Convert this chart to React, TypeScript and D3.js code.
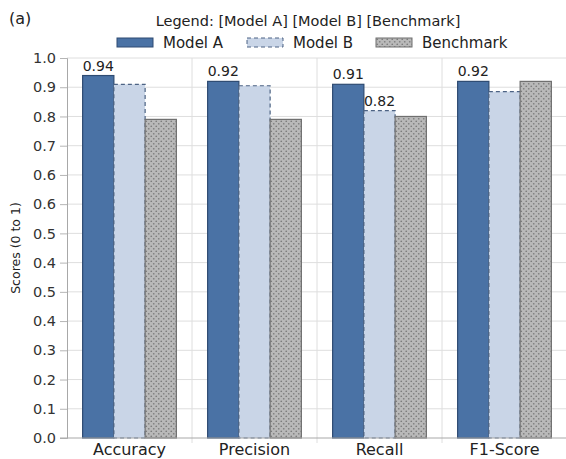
import * as d3 from "d3";
import { useEffect, useRef } from "react";

const WIDTH = 566;
const HEIGHT = 459;
const MARGIN = { top: 58, right: -1, bottom: 21, left: 67 };
const FONT = "'DejaVu Sans', 'Liberation Sans', Arial, sans-serif";

const CATEGORIES = ["Accuracy", "Precision", "Recall", "F1-Score"];
const SERIES = ["Model A", "Model B", "Benchmark"];
const MODEL_A = [0.94, 0.92, 0.91, 0.92];
const MODEL_B = [0.91, 0.905, 0.82, 0.885];
const BENCHMARK = [0.79, 0.79, 0.8, 0.92];
// tick labels exactly as printed on the source axis (top to bottom)
const Y_TICK_LABELS = [
  "1.0", "0.9", "0.8", "0.7", "0.6", "0.6", "0.5",
  "0.4", "0.5", "0.4", "0.3", "0.2", "0.1", "0.0",
];
// which bars carry a value label: [series index, category index]
const LABELLED: [number, number][] = [
  [0, 0],
  [0, 1],
  [0, 2],
  [0, 3],
  [1, 2],
];

const STYLE = [
  { fill: "#4a72a5", stroke: "#2e4b72", dash: null },
  { fill: "#c9d5e7", stroke: "#4d6384", dash: "4,3" },
  { fill: "url(#dots)", stroke: "#6f6f6f", dash: null },
];

export default function App() {
  const svgRef = useRef<SVGSVGElement>(null);

  useEffect(() => {
    if (!svgRef.current) return;
    const svg = d3.select(svgRef.current);
    svg.selectAll("*").remove();

    const values = [MODEL_A, MODEL_B, BENCHMARK];
    const bottom = HEIGHT - MARGIN.bottom;
    const right = WIDTH - MARGIN.right;

    const x = d3.scaleBand().domain(CATEGORIES).range([MARGIN.left, right]);
    const xs = d3
      .scaleBand()
      .domain(SERIES)
      .range([0, x.bandwidth()])
      .paddingOuter(0.5);

    const tickValues = Y_TICK_LABELS.map((_, i) => 1 - i * 0.1);
    const y = d3
      .scaleLinear()
      .domain([tickValues[tickValues.length - 1], 1])
      .range([bottom, MARGIN.top]);

    // hatch pattern for benchmark
    const defs = svg.append("defs");
    const pat = defs
      .append("pattern")
      .attr("id", "dots")
      .attr("patternUnits", "userSpaceOnUse")
      .attr("width", 5)
      .attr("height", 5);
    pat.append("rect").attr("width", 5).attr("height", 5).attr("fill", "#b9b9b9");
    pat.append("circle").attr("cx", 1.25).attr("cy", 1.25).attr("r", 0.85).attr("fill", "#7c7c7c");
    pat.append("circle").attr("cx", 3.75).attr("cy", 3.75).attr("r", 0.85).attr("fill", "#7c7c7c");

    // grid
    const grid = svg.append("g").attr("stroke", "#dedede").attr("stroke-width", 1);
    grid
      .selectAll("line.h")
      .data(tickValues.slice(0, -1))
      .join("line")
      .attr("x1", MARGIN.left)
      .attr("x2", right)
      .attr("y1", (d) => y(d))
      .attr("y2", (d) => y(d));
    grid
      .selectAll("line.v")
      .data(CATEGORIES.slice(1))
      .join("line")
      .attr("x1", (d) => x(d)!)
      .attr("x2", (d) => x(d)!)
      .attr("y1", MARGIN.top)
      .attr("y2", bottom + 5);

    // y axis
    const yAxis = svg
      .append("g")
      .attr("transform", `translate(${MARGIN.left},0)`)
      .call(
        d3
          .axisLeft(y)
          .tickValues(tickValues)
          .tickSize(7)
          .tickPadding(4)
          .tickFormat((_, i) => Y_TICK_LABELS[i])
      );
    yAxis.select(".domain").attr("stroke", "#a8a8a8");
    yAxis.selectAll(".tick line").attr("stroke", "#b5b5b5");
    yAxis
      .selectAll(".tick text")
      .attr("fill", "#333")
      .style("font", `14.5px ${FONT}`);

    // bars
    SERIES.forEach((s, si) => {
      svg
        .append("g")
        .selectAll("rect")
        .data(CATEGORIES)
        .join("rect")
        .attr("x", (c) => x(c)! + xs(s)!)
        .attr("y", (_, ci) => y(values[si][ci]))
        .attr("width", xs.bandwidth())
        .attr("height", (_, ci) => bottom - y(values[si][ci]))
        .attr("fill", STYLE[si].fill)
        .attr("stroke", STYLE[si].stroke)
        .attr("stroke-width", 1.2)
        .attr("stroke-dasharray", STYLE[si].dash);
    });

    // bottom axis line
    svg
      .append("line")
      .attr("x1", MARGIN.left - 7)
      .attr("x2", right)
      .attr("y1", bottom)
      .attr("y2", bottom)
      .attr("stroke", "#a8a8a8");

    // value labels
    svg
      .append("g")
      .selectAll("text")
      .data(LABELLED)
      .join("text")
      .attr("x", ([si, ci]) => x(CATEGORIES[ci])! + xs(SERIES[si])! + xs.bandwidth() / 2)
      .attr("y", ([si, ci]) => y(values[si][ci]) - 5)
      .attr("text-anchor", "middle")
      .attr("fill", "#222")
      .style("font", `14px ${FONT}`)
      .text(([si, ci]) => values[si][ci].toFixed(2));

    // category labels
    svg
      .append("g")
      .selectAll("text")
      .data(CATEGORIES)
      .join("text")
      .attr("x", (c) => x(c)! + x.bandwidth() / 2)
      .attr("y", bottom + 17)
      .attr("text-anchor", "middle")
      .attr("fill", "#222")
      .style("font", `16px ${FONT}`)
      .text((c) => c);

    // y label
    svg
      .append("text")
      .attr("transform", `translate(20,${(MARGIN.top + bottom) / 2}) rotate(-90)`)
      .attr("text-anchor", "middle")
      .attr("fill", "#222")
      .style("font", `12.5px ${FONT}`)
      .text("Scores (0 to 1)");

    // panel tag + legend
    svg
      .append("text")
      .attr("x", 9)
      .attr("y", 24)
      .attr("fill", "#222")
      .style("font", `16px ${FONT}`)
      .text("(a)");

    svg
      .append("text")
      .attr("x", 308)
      .attr("y", 26)
      .attr("text-anchor", "middle")
      .attr("fill", "#222")
      .style("font", `14.5px ${FONT}`)
      .text("Legend: [Model A] [Model B] [Benchmark]");

    const legendX = [117, 247, 376];
    const legend = svg.append("g");
    SERIES.forEach((s, si) => {
      const g = legend.append("g").attr("transform", `translate(${legendX[si]},38)`);
      g.append("rect")
        .attr("width", 36)
        .attr("height", 9)
        .attr("fill", STYLE[si].fill)
        .attr("stroke", STYLE[si].stroke)
        .attr("stroke-dasharray", STYLE[si].dash);
      g.append("text")
        .attr("x", 46)
        .attr("y", 10)
        .attr("fill", "#222")
        .style("font", `15px ${FONT}`)
        .text(s);
    });
  }, []);

  return (
    <svg
      ref={svgRef}
      width={WIDTH}
      height={HEIGHT}
      style={{ position: "absolute", left: 0, top: 0, background: "#fff" }}
    />
  );
}
